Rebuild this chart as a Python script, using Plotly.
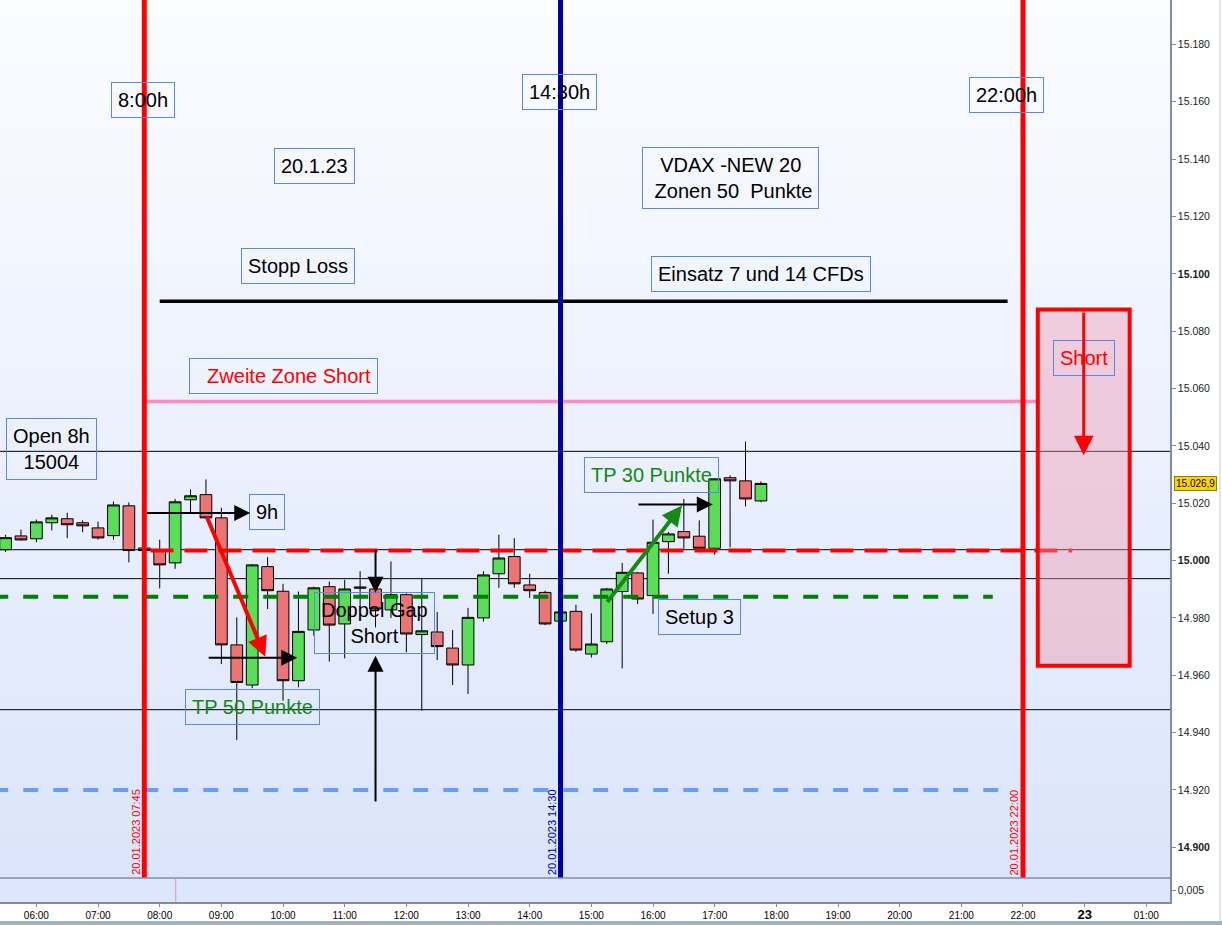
import plotly.graph_objects as go

# ── Data ───────────────────────────────────────────────────────────────────────
times = ["05:30", "05:45", "06:00", "06:15", "06:30", "06:45", "07:00", "07:15",
         "07:30", "07:45", "08:00", "08:15", "08:30", "08:45", "09:00", "09:15",
         "09:30", "09:45", "10:00", "10:15", "10:30", "10:45", "11:00", "11:15",
         "11:30", "11:45", "12:00", "12:15", "12:30", "12:45", "13:00", "13:15",
         "13:30", "13:45", "14:00", "14:15", "14:30", "14:45", "15:00", "15:15",
         "15:30", "15:45", "16:00", "16:15", "16:30", "16:45", "17:00", "17:15",
         "17:30", "17:45"]
opens = [15003.8, 15008.6, 15007.6, 15013.2, 15014.6, 15013.2, 15011.4, 15008.7,
         15019.1, 15004.4, 15003.5, 14999.2, 15021.2, 15023.0, 15014.9, 14970.6,
         14956.6, 14997.9, 14989.3, 14958.1, 14975.8, 14990.9, 14977.9, 14990.8,
         14990.1, 14982.8, 14988.1, 14974.2, 14975.1, 14969.5, 14963.6, 14980.0,
         14995.4, 15001.4, 14991.5, 14988.9, 14978.9, 14982.3, 14967.4, 14971.7,
         14989.2, 14995.7, 14987.8, 15006.6, 15010.1, 15008.5, 15004.3, 15028.9,
         15027.8, 15020.8]
highs = [15009.0, 15010.8, 15014.3, 15016.0, 15016.7, 15014.0, 15013.6, 15020.6,
         15020.3, 15004.8, 15007.3, 15021.5, 15024.8, 15028.3, 15018.4, 14980.2,
         14998.8, 15001.2, 14991.9, 14989.2, 14990.9, 14992.7, 14993.3, 14996.3,
         14993.0, 14999.7, 14988.6, 14994.0, 14982.1, 14975.8, 14983.5, 14996.3,
         15009.0, 15007.8, 14995.4, 14989.5, 14982.5, 14984.6, 14981.6, 14990.5,
         14999.2, 14996.0, 15014.3, 15010.0, 15021.5, 15014.0, 15028.7, 15029.7,
         15041.5, 15027.6]
lows = [15003.0, 15007.0, 15006.4, 15010.5, 15007.8, 15009.9, 15007.3, 15007.3,
        14999.4, 15003.0, 14990.3, 14997.1, 15016.7, 15014.5, 14963.9, 14937.4,
        14955.5, 14983.1, 14951.1, 14955.8, 14973.8, 14964.8, 14965.9, 14984.0,
        14976.7, 14980.0, 14968.0, 14947.6, 14965.3, 14956.6, 14953.5, 14978.7,
        14990.5, 14990.5, 14987.0, 14977.5, 14978.5, 14968.2, 14966.2, 14970.9,
        14962.4, 14984.9, 14981.4, 14995.4, 15004.1, 15002.9, 15002.0, 15004.6,
        15018.9, 15020.4]
closes = [15008.0, 15007.2, 15013.5, 15014.9, 15012.5, 15012.1, 15007.9, 15019.4,
          15003.5, 15003.5, 14998.5, 15020.5, 15022.6, 15014.9, 14970.6, 14957.5,
          14998.5, 14989.5, 14958.1, 14975.3, 14990.5, 14977.5, 14990.1, 14990.4,
          14983.1, 14988.1, 14974.4, 14975.5, 14970.0, 14963.6, 14980.2, 14995.0,
          15000.9, 14991.9, 14989.5, 14977.9, 14982.1, 14968.8, 14970.9, 14990.1,
          14995.9, 14986.6, 15006.4, 15009.3, 15007.9, 15004.3, 15028.5, 15027.8,
          15021.5, 15026.9]
last_price = 15026.9

# thin black horizontal levels (full width)
level_lines = [15038.1, 15003.8, 14993.7, 14948.0]
# drawn levels: (start hour, end hour, price)
open_line = (7.85, 22.80, 15003.5)        # red dashed
zone_line = (5.3, 21.51, 14987.4)          # green dashed
low_line = (5.3, 21.79, 14920.0)           # blue dashed
short_zone2 = (7.77, 22.24, 15055.5)       # pink
stop_loss = (8.0, 21.75, 15090.4)          # black
# session markers (hour, colour, label)
sessions = [(7.75, "#ff0000", "20.01.2023 07:45"),
            (14.5, "#0000a0", "20.01.2023 14:30"),
            (22.0, "#ff0000", "20.01.2023 22:00")]
# short box: hours, prices
short_box = (22.24, 23.73, 14963.3, 15087.6)

# arrows: (tail hour, tail price, head hour, head price, colour, width)
arrows = [
    (7.767, 15016.6, 9.468, 15016.6, "black", 2),
    (8.755, 15015.7, 9.711, 14966.5, "#ff0000", 4),
    (8.77, 14966.1, 10.23, 14966.1, "black", 2),
    (11.5, 15004.2, 11.5, 14988.8, "black", 2),
    (11.5, 14915.5, 11.5, 14966.8, "black", 2),
    (15.238, 14985.0, 16.47, 15019.2, "#138a13", 4),
    (15.74, 15019.6, 16.97, 15019.6, "black", 2),
    (22.985, 15087.0, 22.985, 15036.7, "#ff0000", 3),
]

x_ticks = list(range(6, 25))
x_ticktext = [f"{h:02d}:00" for h in range(6, 23)] + \
             ['<b><span style="font-size:13px">23</span></b>', "01:00"]
y_ticks = list(range(14900, 15181, 20))
y_ticktext = [(f"<b>{v // 1000}.{v % 1000:03d}</b>" if v % 100 == 0
               else f"{v // 1000}.{v % 1000:03d}") for v in y_ticks]

hours = [int(t[:2]) + int(t[3:]) / 60 for t in times]

# ── Figure ─────────────────────────────────────────────────────────────────────
X0, X1 = 5.41, 24.384
Y0, Y1 = 14889.3, 15195.5
SUB = 0.0266      # split between price panel and small bottom panel
FONT = "Arial, Liberation Sans, sans-serif"

fig = go.Figure()
fig.add_trace(go.Candlestick(
    x=hours, open=opens, high=highs, low=lows, close=closes,
    increasing=dict(fillcolor="#5ade5a", line=dict(color="black", width=1)),
    decreasing=dict(fillcolor="#ec7474", line=dict(color="black", width=1)),
    whiskerwidth=0, hoverinfo="skip", showlegend=False,
))
fig.add_trace(go.Scatter(x=[X0], y=[0], yaxis="y2", mode="markers",
                         marker=dict(opacity=0), showlegend=False,
                         hoverinfo="skip"))

shapes = []
# background gradient (white at top -> light blue at bottom)
nb = 40
top_c, bot_c = (251, 252, 255), (219, 229, 251)
for i in range(nb):
    f = i / (nb - 1)
    c = tuple(round(bot_c[k] + (top_c[k] - bot_c[k]) * f) for k in range(3))
    shapes.append(dict(type="rect", xref="paper", yref="paper", x0=0, x1=1,
                       y0=SUB + (1 - SUB) * i / nb,
                       y1=SUB + (1 - SUB) * (i + 1) / nb + 0.001,
                       fillcolor=f"rgb{c}", line=dict(width=0), layer="below"))
for p in level_lines:
    shapes.append(dict(type="line", xref="paper", yref="y", x0=0, x1=1, y0=p, y1=p,
                       line=dict(color="black", width=1), layer="below"))

def hline(spec, color, width, dash="solid"):
    x0, x1, p = spec
    shapes.append(dict(type="line", xref="x", yref="y", x0=x0, x1=x1, y0=p, y1=p,
                       line=dict(color=color, width=width, dash=dash)))

hline(open_line, "#ff0000", 4, "23px,11px")
hline(zone_line, "#008000", 4, "15px,15px")
hline(low_line, "#6a9bff", 4, "15px,15px")
hline(short_zone2, "#ff88c6", 3.5)
hline(stop_loss, "black", 3.5)

for h, col, _ in sessions:
    shapes.append(dict(type="line", xref="x", yref="paper", x0=h, x1=h, y0=SUB, y1=1,
                       line=dict(color=col, width=5)))

bx0, bx1, by0, by1 = short_box
shapes.append(dict(type="rect", xref="x", yref="y", x0=bx0, x1=bx1, y0=by0, y1=by1,
                   fillcolor="rgba(240,150,175,0.42)",
                   line=dict(color="#ff0000", width=4)))

# small bottom panel separator, marker and frame extras
shapes.append(dict(type="line", xref="paper", yref="paper", x0=0, x1=1, y0=SUB, y1=SUB,
                   line=dict(color="#7f8fa0", width=1.5)))
shapes.append(dict(type="line", xref="x", yref="paper", x0=8.26, x1=8.26, y0=0, y1=SUB,
                   line=dict(color="#f09090", width=1)))
shapes.append(dict(type="rect", xref="paper", yref="paper", x0=-0.01, x1=1.05,
                   y0=-0.03, y1=-0.021, fillcolor="#a0b4c0", line=dict(width=0)))
shapes.append(dict(type="line", xref="paper", yref="paper", x0=1.0427, x1=1.0427,
                   y0=-0.021, y1=1, line=dict(color="#c8ccd0", width=1)))

annotations = []

def box(text, x, y, color="black", size=20, pad=6):
    annotations.append(dict(x=x, y=y, xref="x", yref="y", text=text, showarrow=False,
                            font=dict(family=FONT, size=size, color=color),
                            bordercolor="#5a8ae0", borderwidth=1, borderpad=pad,
                            align="center"))

box("8:00h", 7.734, 15160.6)
box("14:30h", 14.49, 15163.4)
box("22:00h", 21.74, 15162.4)
box("20.1.23", 10.51, 15137.6)
box("VDAX -NEW 20<br> Zonen 50  Punkte", 17.25, 15133.4)
box("Stopp Loss", 10.25, 15102.7)
box("Einsatz 7 und 14 CFDs", 17.75, 15099.9)
box("  Zweite Zone Short", 10.0, 15064.2, color="#ff0000")
box("Open 8h<br>15004", 6.24, 15038.8)
box("9h", 9.74, 15016.8)
box("TP 30 Punkte", 15.98, 15029.7, color="#128a12")
box("Doppel Gap<br>Short", 11.49, 14978.4)
box("Setup 3", 16.75, 14980.4)
box("TP 50 Punkte", 9.5, 14949.0, color="#128a12")
box("Short", 22.99, 15070.5, color="#ff0000")

for tx, ty, hx, hy, col, w in arrows:
    annotations.append(dict(x=hx, y=hy, ax=tx, ay=ty, xref="x", yref="y",
                            axref="x", ayref="y", text="", showarrow=True,
                            arrowhead=2, arrowsize={2: 1.6, 3: 1.3, 4: 1.0}[w],
                            arrowwidth=w, arrowcolor=col, standoff=0))

for h, col, label in sessions:
    annotations.append(dict(x=h, y=Y0, xref="x", yref="y", text=label, textangle=-90,
                            showarrow=False, xshift=-8.5, yanchor="bottom",
                            xanchor="center", yshift=1,
                            font=dict(family=FONT, size=11, color=col)))

annotations.append(dict(x=1, y=last_price, xref="paper", yref="y",
                        text=f"{int(last_price) // 1000}.{int(last_price) % 1000:03d},"
                             f"{round(last_price * 10) % 10}",
                        showarrow=False, xanchor="left", xshift=4,
                        bgcolor="#ffd400", bordercolor="#8c7c10", borderwidth=1,
                        borderpad=1, font=dict(family=FONT, size=10, color="black")))

fig.update_layout(
    width=1222, height=925,
    margin=dict(l=0, r=52, t=0, b=23, pad=0),
    paper_bgcolor="white",
    plot_bgcolor="#dce6fc",
    boxgap=0.24, boxgroupgap=0,
    showlegend=False,
    shapes=shapes,
    annotations=annotations,
    xaxis=dict(range=[X0, X1], anchor="y2", tickvals=x_ticks, ticktext=x_ticktext,
               tickfont=dict(family=FONT, size=10, color="black"),
               ticks="outside", ticklen=3, tickcolor="#7f8fa0",
               showgrid=False, zeroline=False, showline=True,
               linecolor="#7f8fa0", linewidth=1.5,
               rangeslider=dict(visible=False), fixedrange=True),
    yaxis=dict(domain=[SUB, 1], range=[Y0, Y1], side="right", anchor="x",
               tickvals=y_ticks, ticktext=y_ticktext,
               tickfont=dict(family=FONT, size=10.5, color="#222"),
               ticks="outside", ticklen=4, tickcolor="#7f8fa0",
               showgrid=False, zeroline=False, showline=True,
               linecolor="#7f8fa0", linewidth=1.5),
    yaxis2=dict(domain=[0, SUB], range=[0, 0.01], side="right", anchor="x",
                tickvals=[0.005], ticktext=["0,005"],
                tickfont=dict(family=FONT, size=10.5, color="#222"),
                ticks="outside", ticklen=4, tickcolor="#7f8fa0",
                showgrid=False, zeroline=False, showline=True,
                linecolor="#7f8fa0", linewidth=1.5),
)

# page body has a default margin; drop it so the 1222x925 figure fills the window
fig.write_html("out.html", config={"displayModeBar": False},
               post_script="document.body.style.margin='0';"
                           "document.body.style.overflow='hidden';")
